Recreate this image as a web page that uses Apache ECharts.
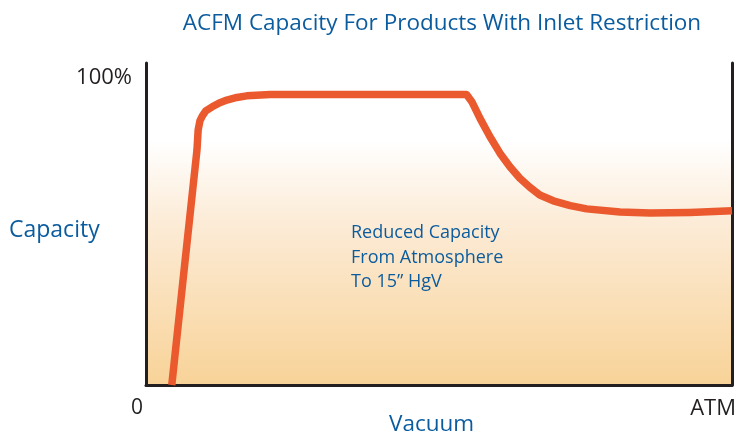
<!DOCTYPE html>
<html>
<head>
<meta charset="utf-8">
<script src="https://cdn.jsdelivr.net/npm/echarts@6/dist/echarts.min.js"></script>
<style>
  html, body { margin: 0; padding: 0; background: #fff; }
  #chart { width: 737px; height: 433px; }
</style>
</head>
<body>
<div id="chart"></div>
<script>
// vacuum position (0 = left, 100 = ATM) and capacity (% of plot height)
const vacuum = [4.4, 8.7, 8.9, 9.2, 9.6, 10.2, 11.3, 12.5, 13.8, 15.5, 17.2, 21.2, 54.7, 55.6, 57.0, 58.7, 60.4, 62.1, 63.8, 65.5, 67.2, 69.5, 72.4, 75.2, 80.9, 86.0, 92.8, 100]
const capacity = [0, 73.0, 79.2, 82.0, 83.5, 85.1, 86.4, 87.6, 88.5, 89.3, 89.8, 90.2, 90.2, 88.0, 82.8, 77.1, 72.0, 67.8, 64.2, 61.4, 59.0, 57.2, 55.7, 54.7, 53.7, 53.4, 53.6, 54.1]
const xTickLabels = ['0', 'ATM']
const yTickLabels = ['100%']
const noteLines = ['Reduced Capacity', 'From Atmosphere', 'To 15\u201D HgV']

const blue = '#0b5c9e'
const dark = '#231f20'
const font = '"Open Sans", Lato, sans-serif'

var myChart = echarts.init(document.getElementById('chart'), null, { renderer: 'canvas' })

var option = {
  animation: false,
  title: {
    text: 'ACFM Capacity For Products With Inlet Restriction',
    left: 437,
    textAlign: 'center',
    top: 7,
    textStyle: { color: blue, fontSize: 22.5, fontWeight: 'normal', fontFamily: font }
  },
  grid: {
    left: 146,
    right: 5,
    top: 63,
    bottom: 48,
    show: true,
    borderWidth: 0,
    backgroundColor: new echarts.graphic.LinearGradient(0, 0, 0, 1, [
      { offset: 0, color: '#ffffff' },
      { offset: 0.24, color: '#ffffff' },
      { offset: 0.5, color: '#fcebd6' },
      { offset: 1, color: '#f8d398' }
    ])
  },
  xAxis: {
    type: 'value',
    min: 0,
    max: 100,
    axisLine: { show: true, lineStyle: { color: dark, width: 3 } },
    axisTick: { show: false },
    splitLine: { show: false },
    axisLabel: { show: false }
  },
  yAxis: [
    {
      type: 'value',
      min: 0,
      max: 100,
      axisLine: { show: true, lineStyle: { color: dark, width: 3 } },
      axisTick: { show: false },
      splitLine: { show: false },
      axisLabel: { show: false }
    },
    {
      type: 'value',
      position: 'right',
      min: 0,
      max: 100,
      axisLine: { show: true, lineStyle: { color: dark, width: 3 } },
      axisTick: { show: false },
      splitLine: { show: false },
      axisLabel: { show: false }
    }
  ],
  series: [
    {
      type: 'line',
      data: vacuum.map((v, i) => [v, capacity[i]]),
      smooth: false,
      symbol: 'none',
      clip: true,
      lineStyle: { color: '#eb5a2e', width: 7.5, join: 'round', cap: 'butt' }
    }
  ],
  graphic: [
    { type: 'text', right: 605, top: 67, style: { text: yTickLabels[0], fill: dark, font: '22px ' + font } },
    { type: 'text', left: 9, top: 219, style: { text: 'Capacity', fill: blue, font: '23px ' + font } },
    { type: 'text', left: 131, top: 398, style: { text: xTickLabels[0], fill: dark, font: '21px ' + font } },
    { type: 'text', right: 1, top: 398, style: { text: xTickLabels[1], fill: dark, font: '22px ' + font } },
    { type: 'text', left: 389, top: 413, style: { text: 'Vacuum', fill: blue, font: '22.5px ' + font } },
    {
      type: 'text',
      left: 351,
      top: 221,
      style: { text: noteLines.join('\n'), fill: blue, font: '18px ' + font, lineHeight: 24.5 }
    }
  ]
}

myChart.setOption(option, true)
</script>
</body>
</html>
